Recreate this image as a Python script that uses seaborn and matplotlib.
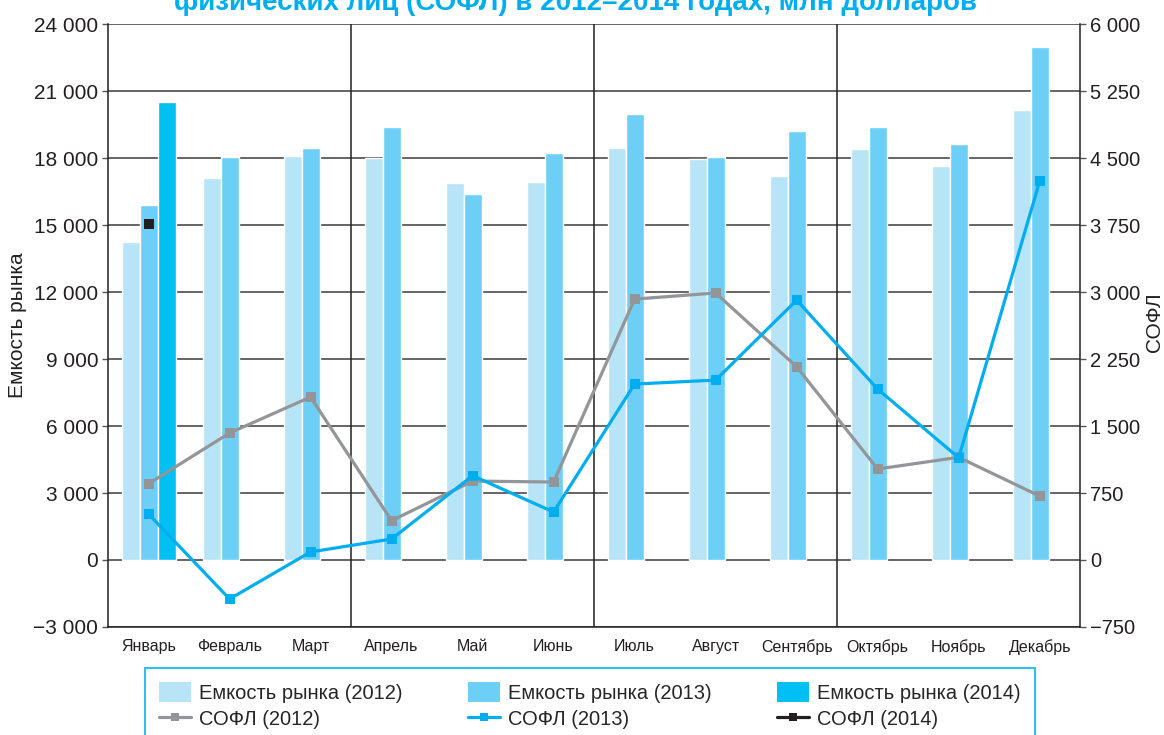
import numpy as np
import pandas as pd
import matplotlib
matplotlib.use('Agg')
import matplotlib.pyplot as plt
import seaborn as sns
from matplotlib.patches import Patch
from matplotlib.lines import Line2D
from matplotlib.ticker import FuncFormatter, MultipleLocator

# data
months = ['Январь', 'Февраль', 'Март', 'Апрель', 'Май', 'Июнь',
          'Июль', 'Август', 'Сентябрь', 'Октябрь', 'Ноябрь', 'Декабрь']
market_2012 = [14250, 17100, 18100, 18000, 16900, 16950,
               18450, 17950, 17200, 18400, 17650, 20150]
market_2013 = [15900, 18050, 18450, 19400, 16400, 18250,
               19980, 18050, 19220, 19400, 18650, 22980]
market_2014 = [20500] + [np.nan] * 11
sofl_2012 = [854, 1422, 1825, 440, 884, 873,
             2922, 2990, 2164, 1019, 1150, 716]
sofl_2013 = [515, -437, 90, 235, 944, 537,
             1970, 2015, 2910, 1914, 1145, 4243]
sofl_2014 = [3760]
years = ['2012', '2013', '2014']

c_bar = {'2012': '#b8e4f8', '2013': '#6ecff6', '2014': '#00bff3'}
c_line = {'2012': '#939598', '2013': '#00aeef', '2014': '#231f20'}

df = pd.DataFrame({
    'month': months * 3,
    'year': sum([[y] * 12 for y in years], []),
    'value': market_2012 + market_2013 + market_2014,
})

sns.set_style('white')
plt.rcParams['font.family'] = ['Liberation Sans', 'DejaVu Sans']

fig = plt.figure(figsize=(11.64, 7.35), dpi=100)
ax = fig.add_axes([0.0928, 0.147, 0.8352, 0.820])

sns.barplot(data=df, x='month', y='value', hue='year', hue_order=years,
            order=months, palette=c_bar, errorbar=None, width=0.667,
            saturation=1, legend=False, ax=ax, zorder=2)

ax.set_xlim(-0.5, 11.5)
ax.set_ylim(-3000, 24000)
ax.yaxis.set_major_locator(MultipleLocator(3000))
fmt = lambda v, p: f'{int(round(v)):,}'.replace(',', ' ').replace('-', '\u2212')
ax.yaxis.set_major_formatter(FuncFormatter(fmt))
ax.grid(axis='y', color='#3a3a3a', lw=1.1)
ax.set_axisbelow(True)
for q in [2.5, 5.5, 8.5]:
    ax.axvline(q, color='#231f20', lw=1.1, zorder=1)

ax.set_xticks(range(12))
ax.set_xticklabels(months, fontsize=11.5,
                   family=['Liberation Sans Narrow', 'Liberation Sans'])
ax.set_xticks(np.arange(-0.5, 12, 1), minor=True)
ax.tick_params(axis='x', which='major', length=0, pad=9, colors='#231f20')
ax.tick_params(axis='x', which='minor', length=7, width=1, color='#555555', direction='out')
ax.tick_params(axis='y', length=4, width=1, color='#555555', direction='out',
               labelsize=15, labelcolor='#231f20', pad=3, left=True)
ax.set_xlabel('')
ax.set_ylabel('Емкость рынка', fontsize=15, color='#231f20')
ax.yaxis.set_label_coords(-0.083, 0.5)
for s in ['left', 'bottom']:
    ax.spines[s].set_color('#231f20')
    ax.spines[s].set_linewidth(1.1)
ax.spines['top'].set_visible(False)
ax.spines['right'].set_visible(False)

ax2 = ax.twinx()
x = np.arange(len(months))
sns.lineplot(x=x, y=sofl_2012, color=c_line['2012'], lw=2.3, marker='s',
             markersize=7, markeredgewidth=0, ax=ax2)
sns.lineplot(x=x, y=sofl_2013, color=c_line['2013'], lw=2.3, marker='s',
             markersize=7, markeredgewidth=0, ax=ax2)
sns.lineplot(x=x[:1], y=sofl_2014, color=c_line['2014'], lw=2.3, marker='s',
             markersize=7, markeredgewidth=0, ax=ax2)
ax2.set_ylim(-750, 6000)
ax2.yaxis.set_major_locator(MultipleLocator(750))
ax2.yaxis.set_major_formatter(FuncFormatter(fmt))
ax2.tick_params(axis='y', length=4, width=1, color='#555555', direction='out',
                labelsize=14.5, labelcolor='#231f20', pad=3, right=True)
ax2.set_ylabel('СОФЛ', fontsize=15, color='#231f20')
ax2.yaxis.set_label_coords(1.067, 0.505)
for s in ['top', 'left', 'bottom']:
    ax2.spines[s].set_visible(False)
ax2.spines['right'].set_color('#231f20')
ax2.spines['right'].set_linewidth(1.1)
ax2.set_xlim(-0.5, 11.5)

fig.text(0.494, 0.986, 'физических лиц (СОФЛ) в 2012–2014 годах, млн долларов',
         ha='center', va='baseline', fontsize=20, fontweight='bold', color='#00aeef')

handles, labels = [], []
for y in years:
    handles.append(Patch(facecolor=c_bar[y], edgecolor='none'))
    labels.append(f'Емкость рынка ({y})')
    handles.append(Line2D([], [], color=c_line[y], lw=2.3, marker='s',
                          markersize=6, markeredgewidth=0))
    labels.append(f'СОФЛ ({y})')
leg = fig.legend(handles, labels, ncol=3, loc='upper left',
                 bbox_to_anchor=(0.1246, -0.02, 0.7646, 0.111), mode='expand',
                 frameon=True, fancybox=False, fontsize=14.5, handlelength=1.6,
                 handleheight=1.1, handletextpad=0.4, labelspacing=0.3,
                 borderpad=0.7, borderaxespad=0)
leg.get_frame().set_edgecolor('#00aeef')
leg.get_frame().set_linewidth(1.5)

fig.savefig('out.png', dpi=100)
